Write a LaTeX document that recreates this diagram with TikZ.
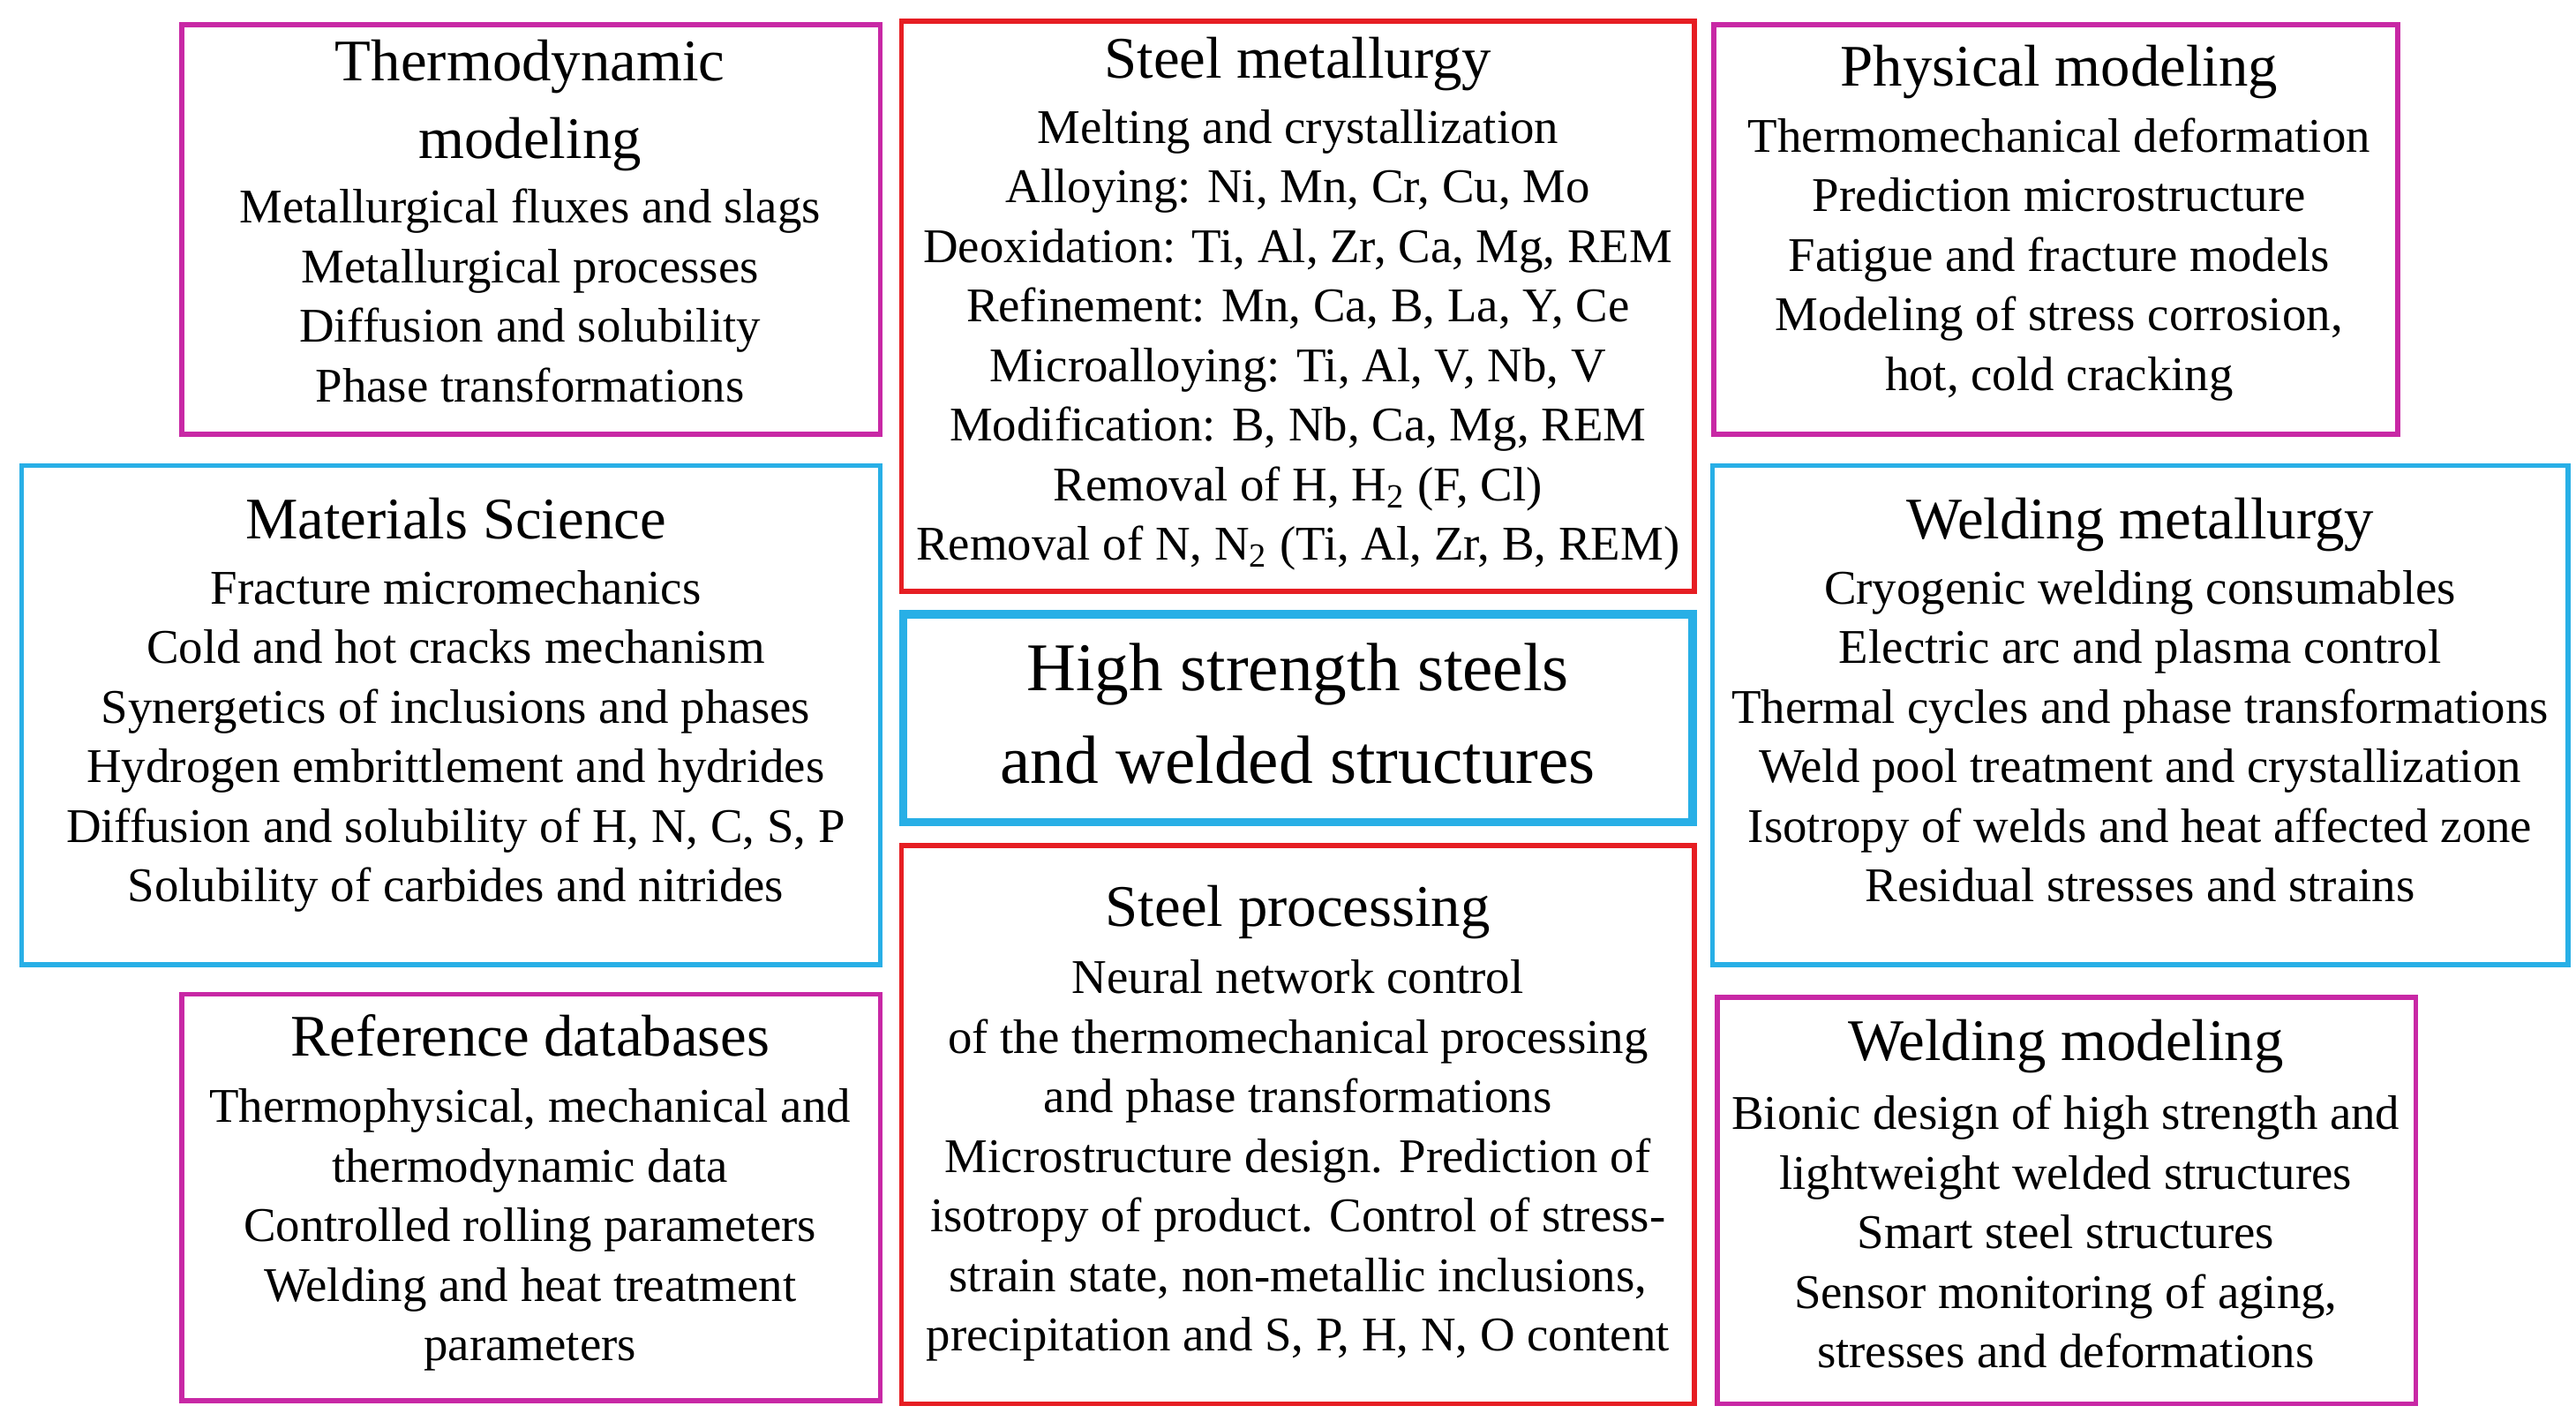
\documentclass[tikz,border=0pt]{standalone}
\usepackage{fontspec}
\setmainfont{Liberation Serif}
\definecolor{mag}{RGB}{200,40,165}
\definecolor{rd}{RGB}{230,30,35}
\definecolor{cy}{RGB}{40,175,230}
\tikzset{
 boxm/.style={draw=mag,line width=1.6pt},
 boxr/.style={draw=rd,line width=1.6pt},
 boxc/.style={draw=cy,line width=1.6pt},
 txt/.style={anchor=north,align=center,inner sep=0pt,font=\fontsize{15.6pt}{19.2pt}\selectfont},
 ttl/.style={anchor=north,align=center,inner sep=0pt,font=\fontsize{19pt}{25pt}\selectfont},
}
\begin{document}
\begin{tikzpicture}[x=0.01871cm,y=-0.01871cm]
\useasboundingbox (0,0) rectangle (1560,860);
\draw[boxm] (110,15) rectangle (533,263);
\node[ttl] (at) at (321,24) {Thermodynamic\\modeling};
\node[txt] (a) at (321,114) {Metallurgical fluxes and slags\\Metallurgical processes\\Diffusion and solubility\\Phase transformations};
\draw[boxr] (546,13) rectangle (1026,358);
\node[ttl] (bt) at (786,22) {Steel metallurgy};
\node[txt] (b) at (786,66) {Melting and crystallization\\Alloying: Ni, Mn, Cr, Cu, Mo\\Deoxidation: Ti, Al, Zr, Ca, Mg, REM\\Refinement: Mn, Ca, B, La, Y, Ce\\Microalloying: Ti, Al, V, Nb, V\\Modification: B, Nb, Ca, Mg, REM\\Removal of H, H\textsubscript{2} (F, Cl)\\Removal of N, N\textsubscript{2} (Ti, Al, Zr, B, REM)};
\draw[boxm] (1038,15) rectangle (1452,263);
\node[ttl] (ct) at (1247,27) {Physical modeling};
\node[txt] (c) at (1247,71) {Thermomechanical deformation\\Prediction microstructure\\Fatigue and fracture models\\Modeling of stress corrosion,\\hot, cold cracking};
\draw[boxc] (13,282) rectangle (533,584);
\node[ttl] (dt) at (276,301) {Materials Science};
\node[txt] (d) at (276,345) {Fracture micromechanics\\Cold and hot cracks mechanism\\Synergetics of inclusions and phases\\Hydrogen embrittlement and hydrides\\Diffusion and solubility of H, N, C, S, P\\Solubility of carbides and nitrides};
\draw[cy,line width=2.6pt] (547,372) rectangle (1025,498);
\node[anchor=north,align=center,inner sep=0pt,font=\fontsize{22pt}{30pt}\selectfont] (e) at (786,389) {High strength steels\\and welded structures};
\draw[boxc] (1037,282) rectangle (1555,584);
\node[ttl] (ft) at (1296,301) {Welding metallurgy};
\node[txt] (f) at (1296,345) {Cryogenic welding consumables\\Electric arc and plasma control\\Thermal cycles and phase transformations\\Weld pool treatment and crystallization\\Isotropy of welds and heat affected zone\\Residual stresses and strains};
\draw[boxm] (110,602) rectangle (533,848);
\node[ttl] (gt) at (321,614) {Reference databases};
\node[txt] (g) at (321,659) {Thermophysical, mechanical and\\thermodynamic data\\Controlled rolling parameters\\Welding and heat treatment\\parameters};
\draw[boxr] (546,512) rectangle (1026,850);
\node[ttl] (ht) at (786,536) {Steel processing};
\node[txt] (h) at (786,581) {Neural network control\\of the thermomechanical processing\\and phase transformations\\Microstructure design. Prediction of\\isotropy of product. Control of stress-\\strain state, non-metallic inclusions,\\precipitation and S, P, H, N, O content};
\draw[boxm] (1040,604) rectangle (1463,850);
\node[ttl] (it) at (1251,617) {Welding modeling};
\node[txt] (i) at (1251,663) {Bionic design of high strength and\\lightweight welded structures\\Smart steel structures\\Sensor monitoring of aging,\\stresses and deformations};
\end{tikzpicture}
\end{document}
